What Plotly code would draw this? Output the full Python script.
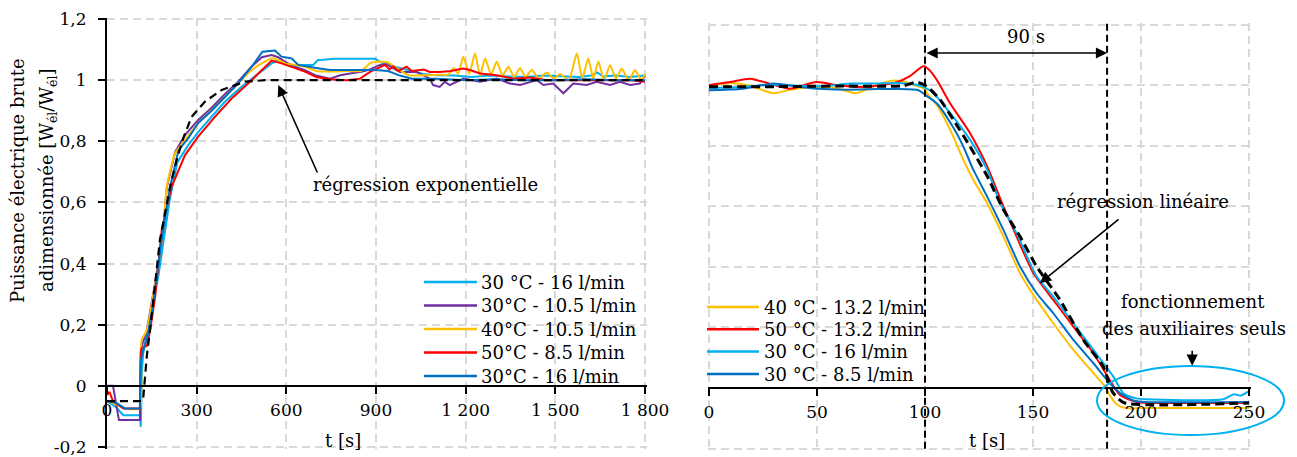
import plotly.graph_objects as go

W, H = 1297, 457
FONT = "DejaVu Serif"

# ---------------- LEFT PANEL DATA (start-up) ----------------
left_names = ["30 °C - 16 l/min", "30°C - 10.5 l/min", "40°C - 10.5 l/min",
              "50°C - 8.5 l/min", "30°C - 16 l/min"]
left_colors = ["#00B0F0", "#7030A0", "#FFC000", "#FF0000", "#0070C0"]

t_lb = [0, 30, 55, 110, 113, 117, 121, 135, 150, 172, 190, 210, 235, 270, 305, 350, 395, 451,
        506, 551, 573, 596, 618, 650, 690, 705, 760, 830, 897, 913, 958, 1000, 1058, 1100, 1160,
        1220, 1280, 1340, 1400, 1460, 1520, 1580, 1620, 1640, 1660, 1700, 1750, 1800]
v_lb = [-0.05, -0.07, -0.096, -0.096, -0.134, 0.05, 0.106, 0.17, 0.25, 0.36, 0.48, 0.61, 0.73,
        0.785, 0.83, 0.88, 0.93, 0.979, 1.022, 1.055, 1.066, 1.055, 1.044, 1.05, 1.05, 1.065,
        1.07, 1.07, 1.07, 1.06, 1.045, 1.035, 1.02, 1.016, 1.015, 1.01, 1.015, 1.012, 1.01,
        1.015, 1.012, 1.01, 1.015, 1.025, 1.012, 1.015, 1.01, 1.015]

t_pu = [0, 20, 40, 110, 113, 116, 133, 150, 172, 188, 200, 228, 261, 305, 350, 395, 439, 484,
        518, 551, 573, 596, 629, 662, 700, 746, 780, 813, 847, 880, 913, 936, 980, 1036, 1080,
        1091, 1113, 1130, 1147, 1192, 1248, 1304, 1348, 1382, 1438, 1460, 1493, 1527, 1560,
        1605, 1638, 1683, 1716, 1750, 1783, 1800]
v_pu = [0, 0, -0.112, -0.112, 0.10, 0.13, 0.18, 0.27, 0.40, 0.51, 0.65, 0.765, 0.82, 0.87, 0.91,
        0.955, 0.995, 1.045, 1.075, 1.082, 1.075, 1.06, 1.044, 1.033, 1.015, 1.005, 1.016, 1.022,
        1.027, 1.035, 1.05, 1.052, 1.027, 1.027, 1.005, 0.984, 0.978, 0.995, 0.984, 1.005, 0.995,
        1.005, 0.989, 0.984, 1.0, 0.984, 0.989, 0.957, 0.989, 0.984, 0.995, 0.984, 0.995, 0.984,
        0.989, 1.016]

t_or = [0, 30, 60, 110, 113, 116, 133, 150, 172, 188, 200, 228, 261, 305, 350, 395, 439, 484,
        518, 551, 573, 596, 629, 662, 700, 750, 800, 850, 880, 900, 940, 975, 1010, 1060, 1110,
        1142, 1160, 1175, 1192, 1212, 1231, 1248, 1265, 1285, 1304, 1323, 1343, 1362, 1382,
        1400, 1421, 1445, 1471, 1495, 1516, 1545, 1572, 1590, 1610, 1627, 1644, 1663, 1683,
        1703, 1722, 1745, 1767, 1787, 1800]
v_or = [-0.05, -0.06, -0.074, -0.074, 0.12, 0.15, 0.182, 0.27, 0.40, 0.51, 0.651, 0.761, 0.804,
        0.859, 0.902, 0.946, 0.99, 1.033, 1.055, 1.072, 1.066, 1.055, 1.05, 1.044, 1.03, 1.028,
        1.03, 1.03, 1.055, 1.06, 1.058, 1.035, 1.016, 1.016, 1.018, 1.018, 1.04, 1.02, 1.077,
        1.02, 1.088, 1.015, 1.072, 1.018, 1.061, 1.015, 1.044, 1.01, 1.04, 1.01, 1.033, 1.005,
        1.025, 1.005, 1.02, 1.0, 1.088, 1.005, 1.072, 1.005, 1.061, 1.0, 1.05, 1.005, 1.038,
        1.0, 1.033, 1.0, 1.02]

t_rd = [0, 8, 20, 55, 110, 113, 116, 133, 144, 161, 183, 216, 261, 305, 361, 417, 473, 518, 551,
        584, 618, 662, 700, 746, 802, 847, 880, 913, 930, 945, 958, 975, 1002, 1020, 1036, 1060,
        1080, 1113, 1150, 1192, 1214, 1248, 1304, 1360, 1415, 1471, 1550, 1650, 1750, 1800]
v_rd = [-0.03, -0.02, -0.05, -0.074, -0.074, 0.11, 0.124, 0.13, 0.18, 0.29, 0.51, 0.651, 0.755,
        0.815, 0.88, 0.94, 0.99, 1.033, 1.064, 1.055, 1.044, 1.028, 1.01, 1.003, 1.0, 1.005,
        1.027, 1.044, 1.05, 1.035, 1.045, 1.03, 1.044, 1.03, 1.033, 1.035, 1.027, 1.027, 1.03,
        1.038, 1.033, 1.022, 1.016, 1.005, 1.009, 1.0, 1.0, 1.0, 1.0, 0.995]

t_db = [0, 30, 60, 110, 113, 120, 135, 150, 165, 183, 211, 239, 272, 305, 350, 395, 439, 484,
        520, 562, 584, 618, 640, 700, 746, 800, 897, 940, 980, 1020, 1100, 1200, 1300, 1400,
        1500, 1600, 1700, 1800]
v_db = [-0.05, -0.055, -0.074, -0.074, 0.08, 0.115, 0.16, 0.24, 0.35, 0.477, 0.651, 0.77, 0.81,
        0.86, 0.9, 0.946, 0.99, 1.044, 1.093, 1.097, 1.077, 1.071, 1.05, 1.04, 1.033, 1.033,
        1.033, 1.03, 1.015, 1.005, 1.005, 1.0, 1.003, 1.0, 1.0, 1.003, 1.0, 1.0]

t_ex = [0, 118, 121.6, 133, 144, 161, 177, 211, 233, 255, 283, 328, 384, 462, 529, 1800]
v_ex = [-0.05, -0.05, -0.036, 0.095, 0.182, 0.324, 0.477, 0.651, 0.739, 0.81, 0.88, 0.93, 0.968,
        0.995, 1.0, 1.0]

left_t = [t_lb, t_pu, t_or, t_rd, t_db]
left_v = [v_lb, v_pu, v_or, v_rd, v_db]

left_xticks = [0, 300, 600, 900, 1200, 1500, 1800]
left_xtext = ["0", "300", "600", "900", "1 200", "1 500", "1 800"]
yticks = [-0.2, 0, 0.2, 0.4, 0.6, 0.8, 1.0, 1.2]
ytext = ["-0,2", "0", "0,2", "0,4", "0,6", "0,8", "1", "1,2"]

# ---------------- RIGHT PANEL DATA (shut-down) ----------------
right_names = ["40 °C - 13.2 l/min", "50 °C - 13.2 l/min", "30 °C - 16 l/min", "30 °C - 8.5 l/min"]
right_colors = ["#FFC000", "#FF0000", "#00B0F0", "#0070C0"]

r_t_or = [0, 9.7, 19, 29.8, 37.5, 49.8, 59, 68, 77.6, 83.8, 90, 96, 99.2, 102, 105.4, 108.5,
          113.1, 117.7, 122.4, 128.8, 136.3, 144, 151.7, 159.4, 168.7, 178, 183.3, 185.6, 189,
          193, 200, 250]
r_v_or = [0.998, 1.007, 0.998, 0.973, 0.985, 0.994, 0.99, 0.973, 1.0, 1.014, 1.012, 0.998, 0.99,
          0.963, 0.935, 0.897, 0.83, 0.754, 0.687, 0.61, 0.5, 0.379, 0.291, 0.214, 0.126, 0.049,
          0.005, -0.025, -0.055, -0.066, -0.066, -0.066]

r_t_rd = [0, 9.7, 19, 28, 37.5, 49.8, 59, 68, 77.6, 86.9, 93, 99.2, 102, 105.4, 111.6, 120.8,
          128.8, 136.3, 142.4, 150.2, 159.4, 168.7, 178, 185.6, 190.3, 196.5, 201, 250]
r_v_rd = [1.0, 1.01, 1.021, 1.005, 0.988, 1.01, 1.0, 0.994, 0.998, 1.01, 1.03, 1.062, 1.05,
          1.018, 0.94, 0.842, 0.732, 0.6, 0.5, 0.379, 0.291, 0.203, 0.115, 0.026, -0.023,
          -0.043, -0.048, -0.049]

r_t_lb = [0, 14.3, 29.8, 42.1, 52.9, 65.2, 77.6, 86.9, 96, 99.2, 103.8, 111.6, 120.8, 128.8,
          134.8, 142.4, 151.7, 159.4, 168.7, 178, 187.2, 191.8, 197.9, 202.6, 238, 243, 246, 250]
r_v_lb = [0.99, 0.994, 1.001, 0.998, 0.996, 1.005, 1.005, 1.007, 1.001, 0.994, 0.974, 0.908,
          0.82, 0.72, 0.611, 0.511, 0.368, 0.302, 0.214, 0.126, 0.038, -0.017, -0.034, -0.037,
          -0.037, -0.02, -0.025, -0.01]

r_t_db = [0, 14.3, 29.8, 42.1, 52.9, 65.2, 77.6, 86.9, 97, 100, 105.4, 113.1, 117.7, 122.4,
          128.8, 136.3, 144, 151.7, 159.4, 168.7, 178, 185.6, 191, 197, 202, 250]
r_v_db = [0.983, 0.987, 1.005, 0.994, 0.987, 0.985, 0.987, 0.987, 0.983, 0.968, 0.94, 0.86,
          0.798, 0.72, 0.632, 0.522, 0.401, 0.313, 0.247, 0.159, 0.082, 0.016, -0.02, -0.042,
          -0.046, -0.046]

r_t_lin = [0, 30, 60, 90, 96, 100.8, 107, 113.1, 120.8, 128.8, 136.3, 144, 151.7, 162.5, 173.3,
           182.5, 187, 192, 250]
r_v_lin = [0.995, 0.995, 0.997, 0.998, 1.01, 0.996, 0.952, 0.886, 0.798, 0.699, 0.589, 0.5,
           0.401, 0.291, 0.159, 0.071, -0.015, -0.048, -0.049]

right_t = [r_t_or, r_t_rd, r_t_lb, r_t_db]
right_v = [r_v_or, r_v_rd, r_v_lb, r_v_db]

right_xticks = [0, 50, 100, 150, 200, 250]
right_xtext = ["0", "50", "100", "150", "200", "250"]
cut_lines = [100, 184.3]

# ---------------- FIGURE ----------------
fig = go.Figure()

for name, col, tt, vv in zip(left_names, left_colors, left_t, left_v):
    shape = "spline" if col == "#FFC000" else "linear"
    fig.add_trace(go.Scatter(x=tt, y=vv, mode="lines", name=name, xaxis="x", yaxis="y",
                             line=dict(color=col, width=2, shape=shape, smoothing=0.5),
                             showlegend=False))
fig.add_trace(go.Scatter(x=t_ex, y=v_ex, mode="lines", showlegend=False, xaxis="x", yaxis="y",
                         line=dict(color="black", width=2.2, dash="8px,5px")))

for name, col, tt, vv in zip(right_names, right_colors, right_t, right_v):
    fig.add_trace(go.Scatter(x=tt, y=vv, mode="lines", name=name, xaxis="x2", yaxis="y2",
                             line=dict(color=col, width=2, shape="spline", smoothing=0.6),
                             showlegend=False))
fig.add_trace(go.Scatter(x=r_t_lin, y=r_v_lin, mode="lines", showlegend=False, xaxis="x2",
                         yaxis="y2", line=dict(color="black", width=3, dash="9px,5px",
                                               shape="spline", smoothing=0.6)))

# ranges padded by ~1.5 px so that the border gridlines are drawn
yr = [-0.205, 1.205]
xr1 = [0, 1805]
xr2 = [-0.7, 250.7]

# domains (pixel -> paper)
xd1 = [107 / W, 646.5 / W]
yd1 = [1 - 448.5 / H, 1 - 17.5 / H]
xd2 = [707.5 / W, 1250.5 / W]
yd2 = [1 - 450.2 / H, 1 - 23.0 / H]


def zero_pos(dom):
    return dom[0] + (0 - yr[0]) / (yr[1] - yr[0]) * (dom[1] - dom[0])


pos1 = zero_pos(yd1)
pos2 = zero_pos(yd2)

grid = dict(showgrid=True, gridcolor="#D9D9D9", gridwidth=1.5, griddash="8px,5px")
tickfont = dict(family=FONT, size=17, color="black")

fig.update_layout(
    width=W, height=H, margin=dict(l=0, r=0, t=0, b=0, autoexpand=False),
    paper_bgcolor="white", plot_bgcolor="white", showlegend=False,
    font=dict(family=FONT, size=18, color="black"),
    xaxis=dict(domain=xd1, range=xr1, tickvals=left_xticks, ticktext=left_xtext,
               anchor="free", position=pos1, showline=True, linecolor="black", linewidth=2,
               ticks="outside", ticklen=7, tickwidth=2, tickcolor="black", zeroline=False,
               tickfont=tickfont, ticklabelstandoff=2, automargin=False, **grid),
    yaxis=dict(domain=yd1, range=yr, tickvals=yticks, ticktext=ytext, anchor="x",
               showline=True, linecolor="black", linewidth=2, ticks="outside", ticklen=7,
               tickwidth=2, tickcolor="black", zeroline=False, tickfont=tickfont,
               ticklabelstandoff=8, automargin=False, **grid),
    xaxis2=dict(domain=xd2, range=xr2, tickvals=right_xticks, ticktext=right_xtext,
                anchor="free", position=pos2, showline=True, linecolor="black", linewidth=2,
                ticks="outside", ticklen=7, tickwidth=2, tickcolor="black", zeroline=False,
                tickfont=tickfont, ticklabelstandoff=2, automargin=False, **grid),
    yaxis2=dict(domain=yd2, range=yr, tickvals=yticks, anchor="x2",
                showticklabels=False, showline=False, ticks="", zeroline=False,
                automargin=False, **grid),
)

shapes = []
# vertical cut lines on right panel
for tc in cut_lines:
    shapes.append(dict(type="line", xref="x2", yref="y2", x0=tc, x1=tc, y0=-0.2, y1=1.21,
                       line=dict(color="black", width=2, dash="7px,4px"), layer="above"))
# ellipse around the auxiliary-only zone (paper coords so it is not clipped)
shapes.append(dict(type="circle", xref="paper", yref="paper",
                   x0=1097 / W, x1=1284 / W, y0=1 - 435 / H, y1=1 - 366 / H,
                   line=dict(color="#00B0F0", width=2), layer="above"))

CENTER = dict(xanchor="center", yanchor="middle", showarrow=False,
              font=dict(family=FONT, size=18, color="black"))

ann = []
# legends (line sample + label)
left_leg_y = [282, 305.5, 329, 352.5, 376]
for name, col, py in zip(left_names, left_colors, left_leg_y):
    shapes.append(dict(type="line", xref="paper", yref="paper", x0=424 / W, x1=477 / W,
                       y0=1 - py / H, y1=1 - py / H, line=dict(color=col, width=2.5)))
    ann.append(dict(xref="paper", yref="paper", x=479 / W, y=1 - py / H, text=name,
                    xanchor="left", yanchor="middle", showarrow=False,
                    font=dict(family=FONT, size=18, color="black")))
right_leg_y = [307, 329.3, 351.6, 374]
for name, col, py in zip(right_names, right_colors, right_leg_y):
    shapes.append(dict(type="line", xref="paper", yref="paper", x0=707 / W, x1=759 / W,
                       y0=1 - py / H, y1=1 - py / H, line=dict(color=col, width=2.5)))
    ann.append(dict(xref="paper", yref="paper", x=762 / W, y=1 - py / H, text=name,
                    xanchor="left", yanchor="middle", showarrow=False,
                    font=dict(family=FONT, size=18, color="black")))

# axis titles
ann.append(dict(xref="paper", yref="paper", x=17 / W, y=1 - 181 / H,
                text="Puissance électrique brute", textangle=-90, **CENTER))
ann.append(dict(xref="paper", yref="paper", x=48 / W, y=1 - 181 / H,
                text="adimensionnée [W<sub>él</sub>/W<sub>él</sub>]", textangle=-90, **CENTER))
ann.append(dict(xref="paper", yref="paper", x=343 / W, y=1 - 440 / H, text="t [s]", **CENTER))
ann.append(dict(xref="paper", yref="paper", x=987 / W, y=1 - 440 / H, text="t [s]", **CENTER))
# left: exponential regression
ann.append(dict(xref="x", yref="y", x=1064, y=0.66, text="régression exponentielle", **CENTER))
ann.append(dict(xref="x", yref="y", x=573, y=0.984, ax=706, ay=0.693, axref="x", ayref="y",
                text="", showarrow=True, arrowhead=2, arrowsize=1.4, arrowwidth=1.6,
                arrowcolor="black", standoff=0))
# right: 90 s
ann.append(dict(xref="x2", yref="y2", x=146.8, y=1.16, text="90 s", **CENTER))
ann.append(dict(xref="x2", yref="y2", x=184.3, y=1.106, ax=100, ay=1.106, axref="x2",
                ayref="y2", text="", showarrow=True, arrowhead=2, startarrowhead=2,
                arrowside="end+start", arrowsize=1.4, startarrowsize=1.4, arrowwidth=1.6,
                arrowcolor="black", standoff=0, startstandoff=0))
# right: linear regression
ann.append(dict(xref="x2", yref="y2", x=200.8, y=0.616, text="régression linéaire", **CENTER))
ann.append(dict(xref="x2", yref="y2", x=153.2, y=0.346, ax=190.3, ay=0.561, axref="x2",
                ayref="y2", text="", showarrow=True, arrowhead=2, arrowsize=1.4,
                arrowwidth=1.6, arrowcolor="black", standoff=0))
# right: auxiliaries only
ann.append(dict(xref="x2", yref="y2", x=224.2, y=0.285, text="fonctionnement", **CENTER))
ann.append(dict(xref="x2", yref="y2", x=224.5, y=0.197, text="des auxiliaires seuls", **CENTER))
ann.append(dict(xref="x2", yref="y2", x=223.7, y=0.074, ax=223.7, ay=0.128, axref="x2",
                ayref="y2", text="", showarrow=True, arrowhead=2, arrowsize=1.4,
                arrowwidth=1.6, arrowcolor="black", standoff=0))
fig.update_layout(annotations=ann, shapes=shapes)

fig.write_html("out.html", config={"displayModeBar": False},
               post_script="document.body.style.margin='0';")
